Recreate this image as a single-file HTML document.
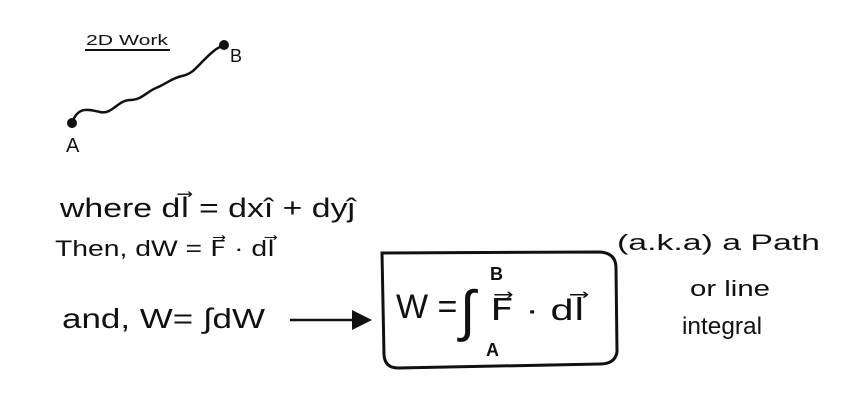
<!DOCTYPE html>
<html><head><meta charset="utf-8"><style>
html,body{margin:0;padding:0;background:#fff;}
svg{display:block;}
text{font-family:"Liberation Sans",sans-serif;fill:#111;}
</style></head><body>
<svg width="846" height="415" viewBox="0 0 846 415">
<g>
<text x="86" y="45" font-size="15" textLength="82" lengthAdjust="spacingAndGlyphs">2D Work</text>
<line x1="85" y1="50" x2="170" y2="50" stroke="#111" stroke-width="2"/>
<path d="M72,123 C78,105 90,110 100,112 C112,115 118,100 130,100 C142,100 146,92 156,88 C166,84 172,78 182,76 C192,74 196,68 204,60 C210,54 216,48 224,45" fill="none" stroke="#111" stroke-width="2.5"/>
<circle cx="72" cy="123" r="5" fill="#111"/>
<circle cx="224" cy="45" r="5" fill="#111"/>
<text x="66" y="152" font-size="20">A</text>
<text x="230" y="62" font-size="18">B</text>
</g>
<text x="60" y="217" font-size="27" textLength="295" lengthAdjust="spacingAndGlyphs">where  dl⃗ = dxî + dyĵ</text>
<text x="55" y="256" font-size="22" textLength="220" lengthAdjust="spacingAndGlyphs">Then,  dW = F⃗ · dl⃗</text>
<text x="62" y="328" font-size="28" textLength="203" lengthAdjust="spacingAndGlyphs">and,  W= ∫dW</text>
<g>
<line x1="290" y1="320" x2="360" y2="320" stroke="#111" stroke-width="2.5"/>
<polygon points="352,310 372,320 352,330" fill="#111"/>
</g>
<path d="M382,253 L600,252 Q616,253 616,268 L617,352 Q615,364 600,364 L398,368 Q385,368 384,355 Z" fill="none" stroke="#111" stroke-width="3"/>
<g>
<text x="396" y="318" font-size="34">W =</text>
<text x="460" y="330" font-size="56" font-family="DejaVu Sans">∫</text>
<text x="490" y="320" font-size="30" textLength="95" lengthAdjust="spacingAndGlyphs">F⃗ · dl⃗</text>
<text x="490" y="280" font-size="18" font-weight="bold">B</text>
<text x="486" y="356" font-size="18" font-weight="bold">A</text>
</g>
<text x="617" y="250" font-size="22" textLength="203" lengthAdjust="spacingAndGlyphs">(a.k.a) a Path</text>
<text x="690" y="296" font-size="22" textLength="80" lengthAdjust="spacingAndGlyphs">or line</text>
<text x="682" y="334" font-size="24" textLength="80" lengthAdjust="spacingAndGlyphs">integral</text>
</svg>
</body></html>
